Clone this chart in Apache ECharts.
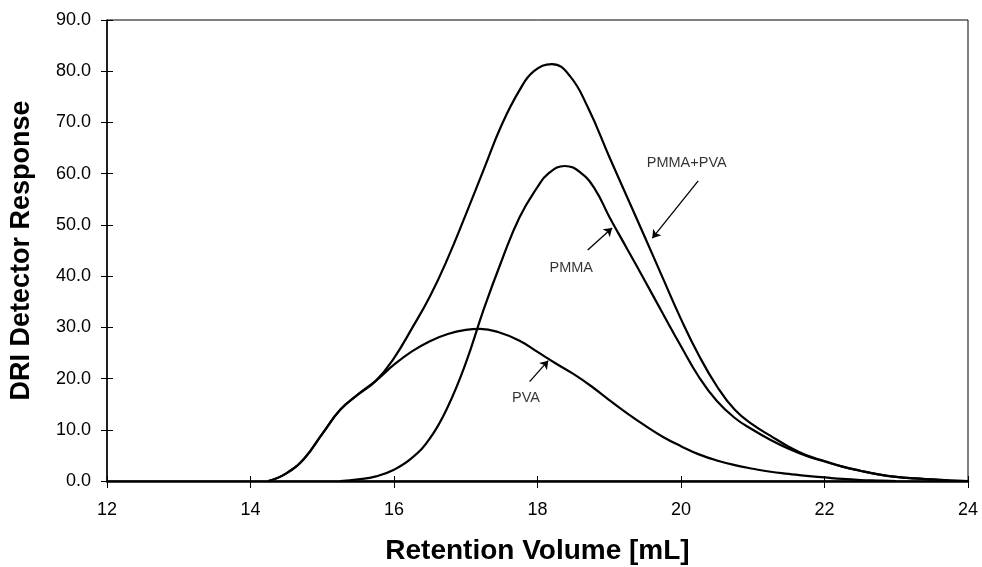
<!DOCTYPE html>
<html>
<head>
<meta charset="utf-8">
<script src="https://cdn.jsdelivr.net/npm/echarts@6/dist/echarts.min.js"></script>
<style>
  html, body { margin: 0; padding: 0; background: #fff; }
  #chart { width: 982px; height: 567px; }
</style>
</head>
<body>
<div id="chart"></div>
<script>
// PMMA+PVA blend: retention volume [mL] / response
const blendVol = [14.25, 14.5, 14.75, 15, 15.25, 15.5, 15.75, 16, 16.25, 16.5, 16.75, 17, 17.25, 17.5, 17.75, 17.95, 18.2, 18.45, 18.7, 19, 19.25, 19.5, 19.75, 20, 20.25, 20.5, 20.75, 21, 21.25, 21.5, 21.75, 22, 22.25, 22.5, 22.75, 23, 23.25, 23.5, 23.75, 24]
const blendVal = [0, 1.5, 4.4, 9.2, 13.9, 16.9, 19.6, 24.0, 29.8, 36.0, 43.5, 52.0, 60.8, 69.5, 76.3, 80.0, 81.4, 79.1, 73.0, 63.3, 55.4, 47.5, 39.5, 31.6, 24.5, 18.5, 13.9, 11.0, 8.8, 6.7, 5.0, 3.9, 2.8, 2.0, 1.3, 0.8, 0.5, 0.3, 0.1, 0]

// PMMA
const pmmaVol = [15.25, 15.5, 15.75, 16, 16.25, 16.5, 16.75, 17, 17.25, 17.5, 17.75, 18, 18.15, 18.38, 18.6, 18.8, 19, 19.25, 19.5, 19.75, 20, 20.25, 20.5, 20.75, 21, 21.25, 21.5, 21.75, 22, 22.25, 22.5, 22.75, 23, 23.25, 23.5, 23.75, 24]
const pmmaVal = [0, 0.3, 0.9, 2.2, 4.5, 8.3, 14.5, 23.0, 33.5, 43.0, 51.5, 57.4, 60.0, 61.5, 60.2, 57.0, 51.6, 45.3, 39.0, 32.6, 26.3, 20.3, 15.6, 12.3, 10.0, 8.0, 6.3, 4.9, 3.8, 2.8, 2.0, 1.3, 0.8, 0.5, 0.3, 0.1, 0]

// PVA
const pvaVol = [14.25, 14.5, 14.75, 15, 15.25, 15.5, 15.75, 16, 16.25, 16.5, 16.75, 17, 17.2, 17.45, 17.75, 18, 18.25, 18.5, 18.75, 19, 19.25, 19.5, 19.75, 20, 20.25, 20.5, 20.75, 21, 21.25, 21.5, 21.75, 22, 22.25, 22.5, 22.75, 23]
const pvaVal = [0, 1.5, 4.4, 9.2, 13.9, 16.9, 19.6, 22.7, 25.3, 27.3, 28.7, 29.5, 29.7, 29.1, 27.4, 25.2, 23.0, 20.9, 18.5, 15.8, 13.2, 10.8, 8.6, 6.8, 5.2, 4.0, 3.1, 2.4, 1.8, 1.4, 1.0, 0.7, 0.4, 0.2, 0.1, 0]

// annotations: label position, arrow tail, arrow head
const labelNames = ['PMMA+PVA', 'PMMA', 'PVA']
const labelPos = [[20.08, 62], [18.47, 41.6], [17.84, 16.2]]
const arrowFrom = [[20.24, 58.6], [18.7, 45.1], [17.89, 19.4]]
const arrowTo = [[19.6, 47.4], [19.04, 49.4], [18.15, 23.5]]

const font = "'Liberation Sans', Arial, sans-serif"

function curve(name, xs, ys) {
  return {
    name: name,
    type: 'line',
    data: xs.map((x, i) => [x, ys[i]]),
    smooth: 0.45,
    showSymbol: false,
    lineStyle: { color: '#000', width: 2.2 },
    itemStyle: { color: '#000' },
    z: 3
  }
}

const chart = echarts.init(document.getElementById('chart'))
chart.setOption({
  animation: false,
  grid: {
    left: 107,
    right: 14,
    top: 20,
    bottom: 86,
    outerBoundsMode: 'none',
    show: true,
    borderColor: '#000',
    borderWidth: 1
  },
  xAxis: [{
    type: 'value',
    min: 12,
    max: 24,
    interval: 2,
    position: 'bottom',
    name: 'Retention Volume [mL]',
    nameLocation: 'middle',
    nameGap: 56,
    nameTextStyle: { color: '#000', fontSize: 28, fontWeight: 'bold', fontFamily: font },
    axisLine: { lineStyle: { color: '#000', width: 2.5 } },
    axisTick: { length: 7, lineStyle: { color: '#000', width: 1 } },
    axisLabel: { color: '#000', fontSize: 18, margin: 20, fontFamily: font },
    splitLine: { show: false }
  }, {
    type: 'value',
    min: 12,
    max: 24,
    interval: 2,
    position: 'bottom',
    axisLine: { show: false },
    axisTick: { inside: true, length: 5, lineStyle: { color: '#000', width: 1 } },
    axisLabel: { show: false },
    splitLine: { show: false }
  }],
  yAxis: [{
    type: 'value',
    min: 0,
    max: 90,
    interval: 10,
    position: 'left',
    name: 'DRI Detector Response',
    nameLocation: 'middle',
    nameGap: 72,
    nameTextStyle: { color: '#000', fontSize: 27, fontWeight: 'bold', fontFamily: font },
    axisLine: { lineStyle: { color: '#000', width: 1.5 } },
    axisTick: { length: 6, lineStyle: { color: '#000', width: 1 } },
    axisLabel: {
      color: '#000',
      fontSize: 18,
      margin: 16,
      fontFamily: font,
      formatter: v => v.toFixed(1)
    },
    splitLine: { show: false }
  }, {
    type: 'value',
    min: 0,
    max: 90,
    interval: 10,
    position: 'left',
    axisLine: { show: false },
    axisTick: { inside: true, length: 6, lineStyle: { color: '#000', width: 1 } },
    axisLabel: { show: false },
    splitLine: { show: false }
  }],
  series: [
    curve('PMMA+PVA', blendVol, blendVal),
    curve('PMMA', pmmaVol, pmmaVal),
    curve('PVA', pvaVol, pvaVal),
    {
      name: 'arrows',
      type: 'lines',
      coordinateSystem: 'cartesian2d',
      symbol: ['none', 'arrow'],
      symbolSize: 8,
      lineStyle: { color: '#000', width: 1.3, opacity: 1 },
      data: arrowFrom.map((p, i) => ({ coords: [p, arrowTo[i]] })),
      z: 4
    },
    {
      name: 'labels',
      type: 'scatter',
      symbolSize: 0,
      data: labelPos.map((p, i) => ({ value: p, name: labelNames[i] })),
      label: {
        show: true,
        position: 'inside',
        formatter: p => p.name,
        color: '#000',
        fontSize: 14.5,
        fontFamily: font
      },
      z: 4
    }
  ]
})
</script>
</body>
</html>
